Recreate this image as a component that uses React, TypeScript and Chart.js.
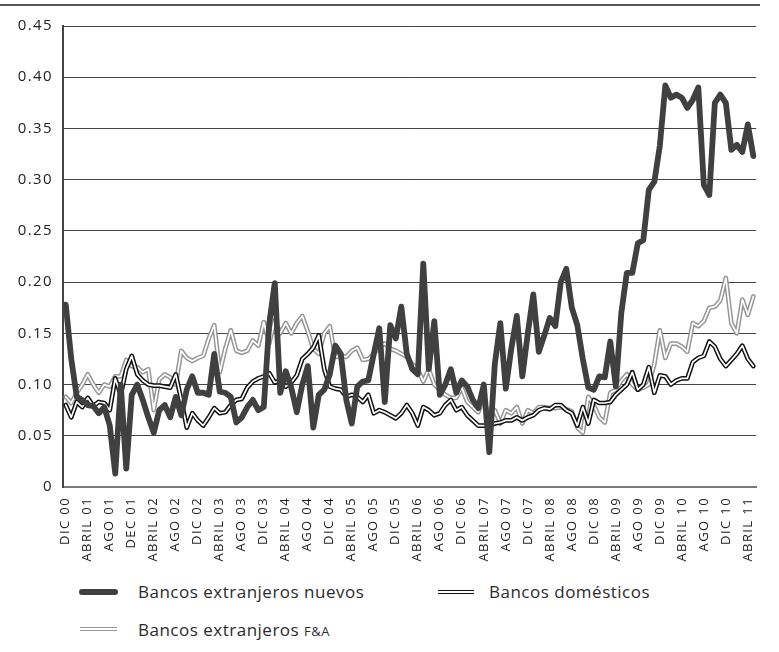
import React, { useEffect, useRef } from 'react';
import { Chart, registerables } from 'chart.js';

Chart.register(...registerables);

const MONTHS = ['ENE', 'FEB', 'MAR', 'ABRIL', 'MAY', 'JUN', 'JUL', 'AGO', 'SEP', 'OCT', 'NOV', 'DIC'];
// Monthly categories, Dec 2000 .. May 2011
const categories: string[] = Array.from({ length: 126 }, (_, i) => {
  const m = (11 + i) % 12;
  const y = Math.floor((11 + i) / 12);
  return MONTHS[m] + ' ' + String(y).padStart(2, '0');
});

// Tick labels shown every 4 months
const tickLabels = [
  'DIC 00', 'ABRIL 01', 'AGO 01', 'DEC 01', 'ABRIL 02', 'AGO 02', 'DIC 02', 'ABRIL 03',
  'AGO 03', 'DIC 03', 'ABRIL 04', 'AGO 04', 'DIC 04', 'ABRIL 05', 'AGO 05', 'DIC 05',
  'ABRIL 06', 'AGO 06', 'DIC 06', 'ABRIL 07', 'AGO 07', 'DIC 07', 'ABRIL 08', 'AGO 08',
  'DIC 08', 'ABRIL 09', 'AGO 09', 'DIC 09', 'ABRIL 10', 'AGO 10', 'DIC 10', 'ABRIL 11',
];

const yTicks = [0, 0.05, 0.1, 0.15, 0.2, 0.25, 0.3, 0.35, 0.4, 0.45];

const nuevos = [
  0.178, 0.125, 0.088, 0.085, 0.08, 0.079, 0.072, 0.078, 0.06, 0.013,
  0.1, 0.018, 0.09, 0.1, 0.085, 0.068, 0.053, 0.075, 0.08, 0.068,
  0.088, 0.07, 0.095, 0.108, 0.092, 0.092, 0.09, 0.13, 0.093, 0.092,
  0.088, 0.063, 0.068, 0.078, 0.085, 0.075, 0.078, 0.16, 0.199, 0.092,
  0.113, 0.097, 0.073, 0.1, 0.118, 0.058, 0.09, 0.095, 0.11, 0.138,
  0.13, 0.085, 0.062, 0.098, 0.103, 0.104, 0.13, 0.155, 0.083, 0.158,
  0.145, 0.176, 0.13, 0.115, 0.11, 0.218, 0.115, 0.162, 0.09, 0.1,
  0.115, 0.092, 0.104, 0.098, 0.085, 0.077, 0.1, 0.034, 0.12, 0.16,
  0.096, 0.135, 0.167, 0.108, 0.15, 0.188, 0.132, 0.148, 0.165, 0.157,
  0.2, 0.213, 0.175, 0.158, 0.125, 0.097, 0.095, 0.108, 0.107, 0.142,
  0.098, 0.17, 0.209, 0.209, 0.238, 0.241, 0.29, 0.298, 0.333, 0.392,
  0.38, 0.383, 0.38, 0.37, 0.378, 0.39, 0.295, 0.285, 0.375, 0.383,
  0.375, 0.329, 0.334, 0.327, 0.354, 0.323,
];

const domesticos = [
  0.08, 0.068, 0.083, 0.078, 0.087, 0.079, 0.083, 0.082, 0.075, 0.106,
  0.09, 0.115, 0.128, 0.11, 0.104, 0.1, 0.099, 0.099, 0.098, 0.097,
  0.11, 0.085, 0.058, 0.072, 0.065, 0.06, 0.068, 0.077, 0.072, 0.073,
  0.08, 0.085, 0.086, 0.097, 0.103, 0.106, 0.108, 0.111, 0.102, 0.104,
  0.098, 0.102, 0.109, 0.125, 0.13, 0.136, 0.148, 0.115, 0.098, 0.096,
  0.095, 0.088, 0.09, 0.088, 0.083, 0.09, 0.072, 0.075, 0.073, 0.07,
  0.067, 0.072, 0.08, 0.072, 0.06, 0.078, 0.075, 0.07, 0.072, 0.08,
  0.085, 0.075, 0.078, 0.07, 0.065, 0.06, 0.06, 0.06, 0.062, 0.063,
  0.065, 0.065, 0.068, 0.065, 0.068, 0.07, 0.075, 0.077, 0.076, 0.08,
  0.08, 0.075, 0.072, 0.06, 0.078, 0.062, 0.085, 0.082, 0.082, 0.083,
  0.09, 0.095, 0.1, 0.112, 0.095, 0.1, 0.117, 0.092, 0.109, 0.108,
  0.1, 0.104, 0.106, 0.106, 0.122, 0.126, 0.128, 0.142, 0.137, 0.125,
  0.118, 0.124, 0.13, 0.138, 0.125, 0.118,
];

const fusiones = [
  0.088, 0.082, 0.092, 0.1, 0.11, 0.1, 0.092, 0.1, 0.098, 0.108,
  0.108, 0.124, 0.118, 0.117, 0.112, 0.115, 0.075, 0.105, 0.11, 0.107,
  0.1, 0.133, 0.126, 0.123, 0.126, 0.128, 0.145, 0.158, 0.112, 0.135,
  0.153, 0.133, 0.131, 0.133, 0.143, 0.138, 0.161, 0.14, 0.163, 0.15,
  0.16, 0.15, 0.16, 0.167, 0.152, 0.135, 0.13, 0.15, 0.157, 0.127,
  0.128, 0.127, 0.133, 0.136, 0.124, 0.125, 0.13, 0.137, 0.14, 0.135,
  0.133, 0.13, 0.127, 0.12, 0.115, 0.103, 0.115, 0.1, 0.095, 0.09,
  0.087, 0.087, 0.097, 0.083, 0.078, 0.073, 0.087, 0.065, 0.075, 0.062,
  0.075, 0.072, 0.078, 0.062, 0.075, 0.072, 0.078, 0.078, 0.077, 0.077,
  0.078, 0.076, 0.074, 0.058, 0.053, 0.088, 0.08, 0.068, 0.063, 0.092,
  0.095, 0.104, 0.11, 0.1, 0.095, 0.097, 0.1, 0.12, 0.153, 0.126,
  0.14, 0.14, 0.137, 0.132, 0.16, 0.157, 0.162, 0.175, 0.176, 0.182,
  0.204, 0.16, 0.15, 0.183, 0.168, 0.186,
];

const spacingPlugin = {
  id: 'letterSpacing',
  beforeDraw(chart: any) {
    chart.ctx.letterSpacing = '1.4px';
  },
  afterDraw(chart: any) {
    chart.ctx.letterSpacing = '0px';
  },
};

const CANVAS_H = 575;

export default function App() {
  const ref = useRef<HTMLCanvasElement>(null);

  useEffect(() => {
    const line = (data: number[], color: string, width: number, extra: any = {}) => ({
      data,
      borderColor: color,
      backgroundColor: color,
      borderWidth: width,
      pointRadius: 0,
      pointHoverRadius: 0,
      tension: 0,
      fill: false,
      borderJoinStyle: 'round',
      borderCapStyle: 'round',
      ...extra,
    });

    const chart = new Chart(ref.current as HTMLCanvasElement, {
      type: 'line',
      data: {
        labels: categories,
        datasets: [
          line(nuevos, '#404040', 5.8, { label: 'Bancos extranjeros nuevos' }),
          line(domesticos, '#ffffff', 1.7, { label: 'Bancos domésticos (interior)' }),
          line(domesticos, '#111111', 4.7, { label: 'Bancos domésticos' }),
          line(fusiones, '#ffffff', 1.7, { label: 'Bancos extranjeros F&A (interior)' }),
          line(fusiones, '#969696', 4.7, { label: 'Bancos extranjeros F&A' }),
        ] as any,
      },
      options: {
        responsive: false,
        devicePixelRatio: 1,
        animation: false,
        events: [],
        layout: { padding: { top: 26, right: 18, left: 0, bottom: 0 } },
        plugins: { legend: { display: false }, tooltip: { enabled: false } },
        scales: {
          x: {
            type: 'category',
            offset: true,
            grid: { display: false, drawTicks: false },
            border: { display: true, color: '#7a7a7a', width: 2 },
            afterFit: (s: any) => { s.height = CANVAS_H - 487; },
            ticks: {
              autoSkip: false,
              minRotation: 90,
              maxRotation: 90,
              padding: 10,
              color: '#222',
              font: { family: '"Open Sans", sans-serif', size: 13 },
              callback: (_v: any, i: number) => (i % 4 === 0 ? tickLabels[i / 4] ?? '' : ''),
            },
          },
          y: {
            min: 0,
            max: 0.45,
            afterFit: (s: any) => { s.width = 63; },
            afterBuildTicks: (s: any) => { s.ticks = yTicks.map((v) => ({ value: v })); },
            grid: { color: '#444', lineWidth: 1, drawTicks: false },
            border: { display: true, color: '#444', width: 2 },
            ticks: {
              padding: 10,
              color: '#222',
              font: { family: '"Open Sans", sans-serif', size: 15 },
              callback: (v: any) => (Number(v) === 0 ? '0' : Number(v).toFixed(2)),
            },
          },
        },
      },
      plugins: [spacingPlugin],
    });
    return () => chart.destroy();
  }, []);

  const textStyle: React.CSSProperties = {
    position: 'absolute',
    fontSize: 17,
    lineHeight: '24px',
    letterSpacing: '0.5px',
    whiteSpace: 'nowrap',
    color: '#2b2b2b',
  };

  return (
    <div
      style={{
        position: 'absolute',
        left: 0,
        top: 0,
        width: 779,
        height: 652,
        background: '#fff',
        fontFamily: '"Open Sans", sans-serif',
      }}
    >
      <div style={{ position: 'absolute', left: 0, top: 4, width: 760, height: 2, background: '#555' }} />
      <canvas
        ref={ref}
        width={779}
        height={CANVAS_H}
        style={{ position: 'absolute', left: 0, top: 0, width: 779, height: CANVAS_H }}
      />
      {/* Legend */}
      <div style={{ position: 'absolute', left: 79, top: 589, width: 39, height: 6, background: '#404040', borderRadius: 3 }} />
      <div style={{ ...textStyle, left: 138, top: 580 }}>Bancos extranjeros nuevos</div>
      <div
        style={{
          position: 'absolute', left: 438, top: 590, width: 36, height: 2,
          borderTop: '1.5px solid #111', borderBottom: '1.5px solid #111',
        }}
      />
      <div style={{ ...textStyle, left: 489, top: 580 }}>Bancos domésticos</div>
      <div
        style={{
          position: 'absolute', left: 80, top: 627, width: 37, height: 2,
          borderTop: '1.5px solid #969696', borderBottom: '1.5px solid #969696',
        }}
      />
      <div style={{ ...textStyle, left: 138, top: 618 }}>
        Bancos extranjeros <span style={{ fontSize: 13 }}>F&amp;A</span>
      </div>
    </div>
  );
}
